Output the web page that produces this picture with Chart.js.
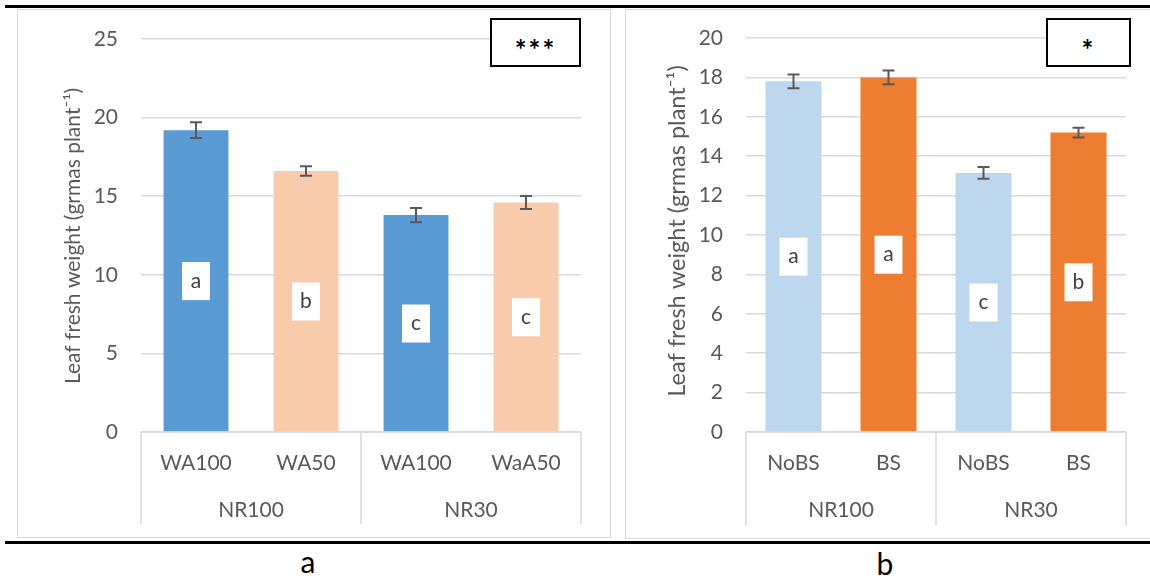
<!DOCTYPE html>
<html>
<head>
<meta charset="utf-8">
<script src="https://cdn.jsdelivr.net/npm/chart.js@4.4.1/dist/chart.umd.min.js"></script>
<style>
  body { margin: 0; width: 1150px; height: 578px; background: #fff; position: relative; overflow: hidden; font-family: Lato, sans-serif; }
  .rule { position: absolute; left: 5px; width: 1145px; height: 3px; background: #000; }
  .panel { position: absolute; border: 1px solid #d9d9d9; box-sizing: border-box; }
  .wrap { position: absolute; }
  .sig { position: absolute; box-sizing: border-box; border: 2px solid #000; background: #fff; display: flex; align-items: center; justify-content: center; padding-top: 13px; font-size: 28px; font-weight: bold; color: #000; letter-spacing: 2px; }
  .cap { position: absolute; width: 60px; margin-left: -30px; text-align: center; font-size: 30px; line-height: 30px; color: #000; }
</style>
</head>
<body>
<div class="rule" style="top:5px"></div>
<div class="panel" style="left:17px; top:9px; width:594px; height:529px"></div>
<div class="panel" style="left:625px; top:9px; width:540px; height:530px"></div>

<div class="wrap" style="left:17px; top:9px"><canvas id="chartA" width="593" height="528"></canvas></div>
<div class="wrap" style="left:625px; top:9px"><canvas id="chartB" width="525" height="528"></canvas></div>

<div class="sig" style="left:490px; top:18px; width:91px; height:49px">***</div>
<div class="sig" style="left:1046px; top:18px; width:85px; height:49px">*</div>

<div class="rule" style="top:541px"></div>
<div class="cap" style="left:308px; top:546px">a</div>
<div class="cap" style="left:885px; top:548px">b</div>

<script>
// panel a
const groupsA = ['NR100', 'NR30'];
const subLabelsA = ['WA100', 'WA50', 'WA100', 'WaA50'];
const valuesA = [19.2, 16.6, 13.8, 14.6];
const errorsA = [0.5, 0.3, 0.45, 0.42];
const lettersA = ['a', 'b', 'c', 'c'];
const colorsA = ['#5B9BD5', '#F8CBAD', '#5B9BD5', '#F8CBAD'];

// panel b
const groupsB = ['NR100', 'NR30'];
const subLabelsB = ['NoBS', 'BS', 'NoBS', 'BS'];
const valuesB = [17.8, 18.0, 13.15, 15.2];
const errorsB = [0.35, 0.35, 0.3, 0.25];
const lettersB = ['a', 'a', 'c', 'b'];
const colorsB = ['#BDD7EE', '#ED7D31', '#BDD7EE', '#ED7D31'];

const yTitle = 'Leaf fresh weight (grmas plant\u207B\u00B9)';
const gridGrey = '#d9d9d9';
const textGrey = '#595959';

// error bars, letter boxes, y title and the two-level category axis
function makeDecor(o) {
  return {
    id: 'decor',
    afterDatasetsDraw(chart) {
      const ctx = chart.ctx;
      const y = chart.scales.y;
      const x = chart.scales.x;
      const bars = chart.getDatasetMeta(0).data;
      const area = chart.chartArea;

      ctx.save();
      // letters in white boxes, centred at half bar height
      ctx.font = '21px Lato';
      ctx.textAlign = 'center';
      ctx.textBaseline = 'middle';
      bars.forEach((bar, i) => {
        const cy = y.getPixelForValue(o.values[i] / 2);
        ctx.fillStyle = '#fff';
        ctx.fillRect(bar.x - 14, cy - 19, 28, 38);
        ctx.fillStyle = '#404040';
        ctx.fillText(o.letters[i], bar.x, cy);
      });

      // error bars
      ctx.strokeStyle = textGrey;
      ctx.lineWidth = 2;
      bars.forEach((bar, i) => {
        const yt = y.getPixelForValue(o.values[i] + o.errors[i]);
        const yb = y.getPixelForValue(o.values[i] - o.errors[i]);
        ctx.beginPath();
        ctx.moveTo(bar.x, yt); ctx.lineTo(bar.x, yb);
        ctx.moveTo(bar.x - 6, yt); ctx.lineTo(bar.x + 6, yt);
        ctx.moveTo(bar.x - 6, yb); ctx.lineTo(bar.x + 6, yb);
        ctx.stroke();
      });

      // category axis lines
      const per = o.subLabels.length / o.groups.length;
      ctx.strokeStyle = gridGrey;
      ctx.lineWidth = 1.5;
      ctx.beginPath();
      ctx.moveTo(area.left, area.bottom); ctx.lineTo(area.right, area.bottom);
      for (let g = 0; g <= o.groups.length; g++) {
        let gx;
        if (g === 0) gx = area.left;
        else if (g === o.groups.length) gx = area.right;
        else gx = (x.getPixelForValue(g * per - 1) + x.getPixelForValue(g * per)) / 2;
        ctx.moveTo(gx, area.bottom); ctx.lineTo(gx, area.bottom + o.axisDepth);
      }
      ctx.stroke();

      // category labels
      ctx.fillStyle = textGrey;
      ctx.font = '21px Lato';
      o.subLabels.forEach((lab, i) => {
        ctx.fillText(lab, x.getPixelForValue(i), area.bottom + 31);
      });
      o.groups.forEach((lab, g) => {
        const gx = (x.getPixelForValue(g * per) + x.getPixelForValue(g * per + per - 1)) / 2;
        ctx.fillText(lab, gx, area.bottom + 78);
      });

      // y axis title
      ctx.translate(o.titleX, o.titleY);
      ctx.rotate(-Math.PI / 2);
      ctx.font = o.titleSize + 'px Lato';
      ctx.fillText(yTitle, 0, 0);
      ctx.restore();
    }
  };
}

function drawPanel(id, o) {
  const ctx = document.getElementById(id).getContext('2d');
  new Chart(ctx, {
    type: 'bar',
    data: {
      labels: o.subLabels,
      datasets: [{
        data: o.values,
        backgroundColor: o.colors,
        borderWidth: 0,
        barPercentage: 0.59,
        categoryPercentage: 1
      }]
    },
    options: {
      responsive: false,
      animation: false,
      layout: { padding: { top: o.padTop, right: o.padRight, bottom: 0, left: 0 } },
      scales: {
        x: {
          ticks: { display: false },
          grid: { display: false },
          border: { display: false },
          afterFit: s => { s.height = 105; }
        },
        y: {
          min: 0,
          max: o.max,
          ticks: {
            stepSize: o.step,
            padding: 3,
            color: textGrey,
            font: { family: 'Lato', size: 21 }
          },
          // invisible tick marks keep the labels clear of the plot
          grid: { color: gridGrey, lineWidth: 1.5, drawTicks: true, tickLength: 20, tickColor: 'rgba(0,0,0,0)' },
          border: { display: false },
          afterFit: s => { s.width = o.axisWidth; }
        }
      },
      plugins: {
        legend: { display: false },
        tooltip: { enabled: false }
      }
    },
    plugins: [makeDecor(o)]
  });
}

drawPanel('chartA', {
  subLabels: subLabelsA, groups: groupsA, values: valuesA, errors: errorsA,
  letters: lettersA, colors: colorsA, max: 25, step: 5,
  padTop: 30, padRight: 29, axisWidth: 124, axisDepth: 92,
  titleSize: 21, titleX: 56, titleY: 227
});

drawPanel('chartB', {
  subLabels: subLabelsB, groups: groupsB, values: valuesB, errors: errorsB,
  letters: lettersB, colors: colorsB, max: 20, step: 2,
  padTop: 29, padRight: 24, axisWidth: 121, axisDepth: 94,
  titleSize: 23.5, titleX: 52, titleY: 222
});
</script>
</body>
</html>
